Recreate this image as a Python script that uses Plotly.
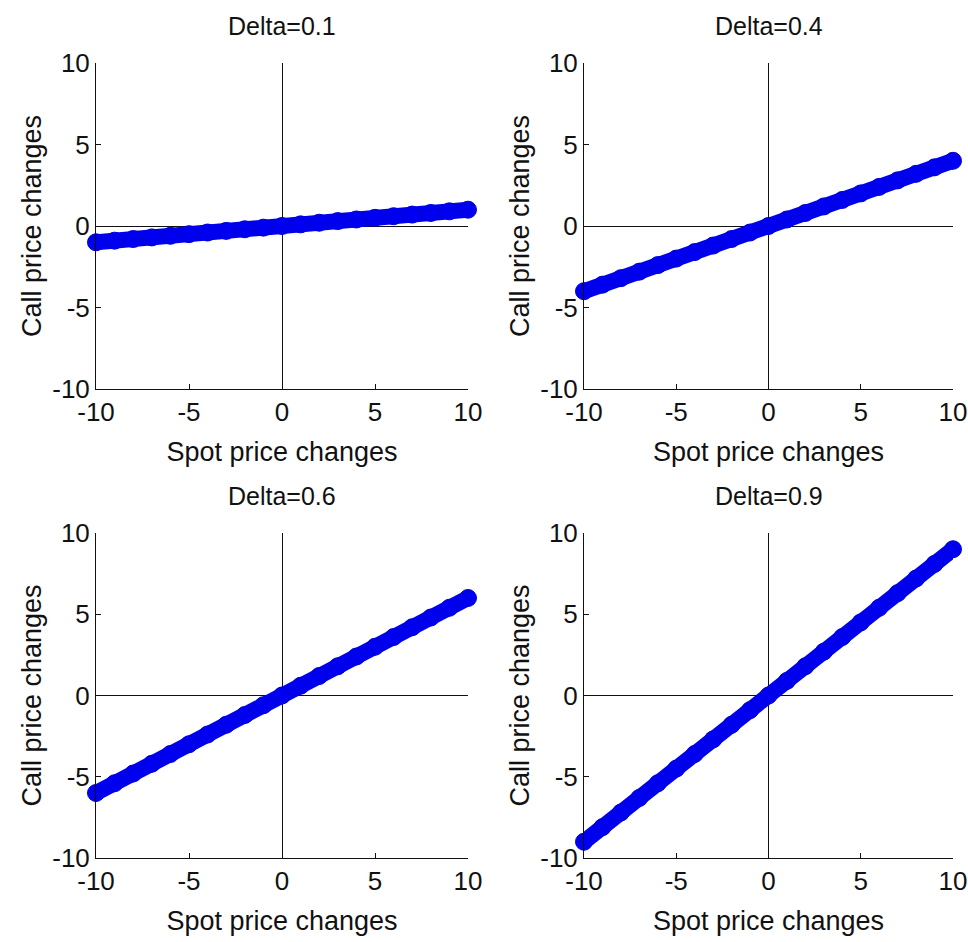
import plotly.graph_objects as go

# ---- data ----
spot_changes = [-10, -9, -8, -7, -6, -5, -4, -3, -2, -1, 0, 1, 2, 3, 4, 5, 6, 7, 8, 9, 10]
call_delta_01 = [-1.0, -0.9, -0.8, -0.7, -0.6, -0.5, -0.4, -0.3, -0.2, -0.1, 0.0,
                 0.1, 0.2, 0.3, 0.4, 0.5, 0.6, 0.7, 0.8, 0.9, 1.0]
call_delta_04 = [-4.0, -3.6, -3.2, -2.8, -2.4, -2.0, -1.6, -1.2, -0.8, -0.4, 0.0,
                 0.4, 0.8, 1.2, 1.6, 2.0, 2.4, 2.8, 3.2, 3.6, 4.0]
call_delta_06 = [-6.0, -5.4, -4.8, -4.2, -3.6, -3.0, -2.4, -1.8, -1.2, -0.6, 0.0,
                 0.6, 1.2, 1.8, 2.4, 3.0, 3.6, 4.2, 4.8, 5.4, 6.0]
call_delta_09 = [-9.0, -8.1, -7.2, -6.3, -5.4, -4.5, -3.6, -2.7, -1.8, -0.9, 0.0,
                 0.9, 1.8, 2.7, 3.6, 4.5, 5.4, 6.3, 7.2, 8.1, 9.0]
panel_titles = ["Delta=0.1", "Delta=0.4", "Delta=0.6", "Delta=0.9"]
series = [call_delta_01, call_delta_04, call_delta_06, call_delta_09]
tick_vals = [-10, -5, 0, 5, 10]
tick_text = ["-10", "-5", "0", "5", "10"]
x_title = "Spot price changes"
y_title = "Call price changes"

W, H = 968, 942
FONT = "Liberation Sans Narrow, Arial Narrow, Liberation Sans, Arial, sans-serif"
BLUE = "#0000f0"
INK = "#111111"

# pixel boxes (left, right, top, bottom)
boxes = [(96, 468, 63, 389), (584, 953, 63, 389),
         (96, 468, 533, 858), (584, 953, 533, 858)]

fig = go.Figure()
layout = dict(
    width=W, height=H,
    margin=dict(l=0, r=0, t=0, b=0, autoexpand=False),
    paper_bgcolor="white", plot_bgcolor="white",
    showlegend=False,
    font=dict(family=FONT, size=26, color=INK),
)
annotations = []
for i, (ys, title, (l, r, t, b)) in enumerate(zip(series, panel_titles, boxes)):
    n = "" if i == 0 else str(i + 1)
    xa, ya = "x" + n, "y" + n
    fig.add_trace(go.Scatter(
        x=spot_changes, y=ys, mode="lines+markers", xaxis=xa, yaxis=ya,
        line=dict(color=BLUE, width=16),
        marker=dict(color=BLUE, size=17, symbol="circle",
                    line=dict(color="#0000d8", width=1)),
        cliponaxis=False, hoverinfo="skip",
    ))
    axis_common = dict(
        range=[-10, 10], tickvals=tick_vals, ticktext=tick_text,
        ticks="inside", ticklen=5, tickcolor=INK, tickwidth=1,
        showline=True, linecolor=INK, linewidth=1, mirror=False,
        showgrid=False, zeroline=True, zerolinecolor=INK, zerolinewidth=1,
        tickfont=dict(family=FONT, size=26, color=INK),
        ticklabeloverflow="allow",
        fixedrange=True, automargin=False,
    )
    xd = [l / W, r / W]
    yd = [1 - b / H, 1 - t / H]
    layout["xaxis" + n] = dict(axis_common, domain=xd, anchor=ya,
                               title=dict(text=x_title, standoff=15,
                                          font=dict(family=FONT, size=27, color=INK)))
    layout["yaxis" + n] = dict(axis_common, domain=yd, anchor=xa,
                               title=dict(text=y_title, standoff=2,
                                          font=dict(family=FONT, size=27, color=INK)))
    annotations.append(dict(
        text=title, xref="paper", yref="paper",
        x=(l + r) / 2 / W, y=1 - (t - 37) / H, xanchor="center", yanchor="middle",
        showarrow=False, font=dict(family=FONT, size=25, color=INK),
    ))
layout["annotations"] = annotations
fig.update_layout(**layout)
fig.write_html("out.html")
